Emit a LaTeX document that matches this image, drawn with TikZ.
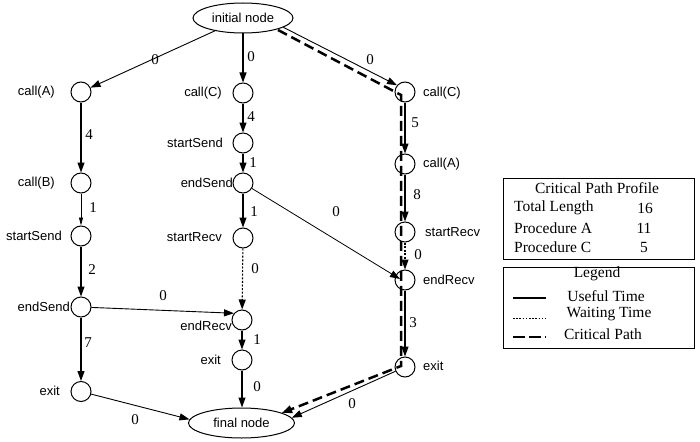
\documentclass[tikz,border=0pt]{standalone}
\usepackage{fontspec}
\setmainfont{Liberation Serif}
\newfontfamily\lsans{Liberation Sans}
\usetikzlibrary{arrows.meta,shapes.geometric,calc}
\begin{document}
\begin{tikzpicture}[x=1pt,y=-1pt,
  ev/.style={circle,draw,line width=1pt,minimum size=20pt,inner sep=0pt},
  term/.style={ellipse,draw,line width=1pt,minimum height=30pt,inner sep=0pt,font=\lsans\fontsize{13}{15}\selectfont},
  lab/.style={font=\lsans\fontsize{13}{15}\selectfont,inner sep=0pt},
  num/.style={font=\fontsize{15}{17}\selectfont,inner sep=0pt},
  tbl/.style={font=\fontsize{15.5}{17}\selectfont,inner sep=0pt},
  edge/.style={line width=1.1pt,-{Triangle[length=10pt,width=7pt]}},
  thinedge/.style={line width=0.9pt,-{Triangle[length=10pt,width=7pt]}},
  fineedge/.style={line width=0.8pt,-{Triangle[length=8pt,width=4pt]}},
  wait/.style={line width=1.1pt,dash pattern=on 2pt off 1.6pt,-{Triangle[length=10pt,width=7pt]}},
  crit/.style={line width=2.5pt,dash pattern=on 10pt off 5pt},
  box/.style={draw,line width=1pt}
]
\useasboundingbox (0,0) rectangle (700,441);

% terminal nodes
\node[term,minimum width=100pt] (init) at (243,18) {initial node};
\node[term,minimum width=106pt] (fin) at (241.5,423) {final node};

% left column
\node[ev] (la) at (81,92) {};
\node[ev] (lb) at (81,183) {};
\node[ev] (lss) at (81,236) {};
\node[ev] (les) at (81,307) {};
\node[ev] (lx) at (81,391.5) {};
\node[lab,anchor=east] (tla) at (55,92) {call(A)};
\node[lab,anchor=east] (tlb) at (55,183) {call(B)};
\node[lab,anchor=east] (tlss) at (62,236) {startSend};
\node[lab,anchor=east] (tles) at (70,307) {endSend};
\node[lab,anchor=east] (tlx) at (60,391) {exit};

% middle column
\node[ev] (mc) at (243,93) {};
\node[ev] (mss) at (243,143) {};
\node[ev] (mes) at (243,183) {};
\node[ev] (msr) at (243,238) {};
\node[ev] (mer) at (242,320) {};
\node[ev] (mx) at (242,360) {};
\node[lab,anchor=east] (tmc) at (222,93) {call(C)};
\node[lab,anchor=east] (tmss) at (223,143) {startSend};
\node[lab,anchor=east] (tmes) at (233,183) {endSend};
\node[lab,anchor=east] (tmsr) at (222,237) {startRecv};
\node[lab,anchor=east] (tmer) at (232,326) {endRecv};
\node[lab,anchor=east] (tmx) at (221,360) {exit};

% right column
\node[ev] (rc) at (405,92) {};
\node[ev] (ra) at (405,164) {};
\node[ev] (rsr) at (405,232) {};
\node[ev] (rer) at (405,280) {};
\node[ev] (rx) at (405,367) {};
\node[lab,anchor=west] (trc) at (423,93) {call(C)};
\node[lab,anchor=west] (tra) at (423,164) {call(A)};
\node[lab,anchor=west] (trsr) at (425,232) {startRecv};
\node[lab,anchor=west] (trer) at (423,280) {endRecv};
\node[lab,anchor=west] (trx) at (423,366) {exit};

% critical path (dashed)
\coordinate (cp0) at (278,30);
\coordinate (cp1) at (401,95);
\coordinate (cp2) at (401,366);
\draw[crit] (cp0) -- (cp1) -- (cp2) -- (fin.14);
\draw[line width=1pt,-{Triangle[length=10pt,width=8pt]}] ($(fin.14)!12pt!(cp2)$) -- (fin.14);

% edges left
\draw[thinedge] (init) -- (la);
\draw[edge] (la) -- (lb);
\draw[fineedge] (lb) -- (lss);
\draw[edge] (lss) -- (les);
\draw[edge] (les) -- (lx);
\draw[thinedge] (lx) -- (fin.176);
\draw[thinedge] (les) -- (mer.140);

% edges middle
\draw[edge] (init) -- (mc);
\draw[edge] (mc) -- (mss);
\draw[edge] (mss) -- (mes);
\draw[edge] (mes) -- (msr);
\draw[wait] (msr) -- (mer);
\draw[edge] (mer) -- (mx);
\draw[edge] (mx) -- (mx |- fin.north);
\coordinate (rin) at (400,279);
\draw[line width=0.8pt,-{Triangle[length=10pt,width=7pt]}] (mes) -- (rin);

% edges right
\draw[thinedge] (init.-13) -- (rc.140);
\draw[edge] (rc) -- (ra);
\draw[edge] (ra) -- (rsr);
\draw[wait] (rsr) -- (rer);
\draw[edge] (rer) -- (rx);
\draw[thinedge] (rx) -- (fin.6);

% edge weights
\node[num] (w1) at (155,60) {0};
\node[num] (w2) at (251,57) {0};
\node[num] (w3) at (370,60) {0};
\node[num] (w4) at (89,135) {4};
\node[num] (w5) at (93,208) {1};
\node[num] (w6) at (92,270) {2};
\node[num] (w7) at (88,343) {7};
\node[num] (w8) at (135,420) {0};
\node[num] (w9) at (251,117) {4};
\node[num] (w10) at (253,163) {1};
\node[num] (w11) at (254,212) {1};
\node[num] (w12) at (255,269) {0};
\node[num] (w13) at (163,296) {0};
\node[num] (w14) at (257,340) {1};
\node[num] (w15) at (257,387) {0};
\node[num] (w16) at (336,212) {0};
\node[num] (w17) at (415,123) {5};
\node[num] (w18) at (417,195) {8};
\node[num] (w19) at (418,255) {0};
\node[num] (w20) at (413,323) {3};
\node[num] (w21) at (352,404) {0};

% Critical path profile table
\node[box,minimum width=191pt,minimum height=81pt,inner sep=0pt] (prof) at (598.5,218.5) {};
\node[tbl] (pt) at (597,188) {Critical Path Profile};
\node[tbl,anchor=west] (p1) at (514,208) {Total Length};
\node[tbl] (p1v) at (645,208) {16};
\node[tbl,anchor=west] (p2) at (514,228) {Procedure A};
\node[tbl] (p2v) at (644,228) {11};
\node[tbl,anchor=west] (p3) at (514,247) {Procedure C};
\node[tbl] (p3v) at (644,247) {5};

% Legend
\node[box,minimum width=191pt,minimum height=81pt,inner sep=0pt] (leg) at (598.5,307.5) {};
\node[tbl] (lt) at (597,274) {Legend};
\coordinate (s1a) at (513,298); \coordinate (s1b) at (546,298);
\coordinate (s2a) at (513,318); \coordinate (s2b) at (546,318);
\coordinate (s3a) at (513,337); \coordinate (s3b) at (546,337);
\draw[line width=1.2pt] (s1a) -- (s1b);
\draw[line width=1pt,dash pattern=on 1.6pt off 1.6pt] (s2a) -- (s2b);
\draw[line width=2.5pt,dash pattern=on 12pt off 4pt on 12pt off 4pt on 3pt] (s3a) -- (s3b);
\node[tbl] (l1) at (606,296) {Useful Time};
\node[tbl] (l2) at (609,314) {Waiting Time};
\node[tbl] (l3) at (603,334) {Critical Path};
\end{tikzpicture}
\end{document}
